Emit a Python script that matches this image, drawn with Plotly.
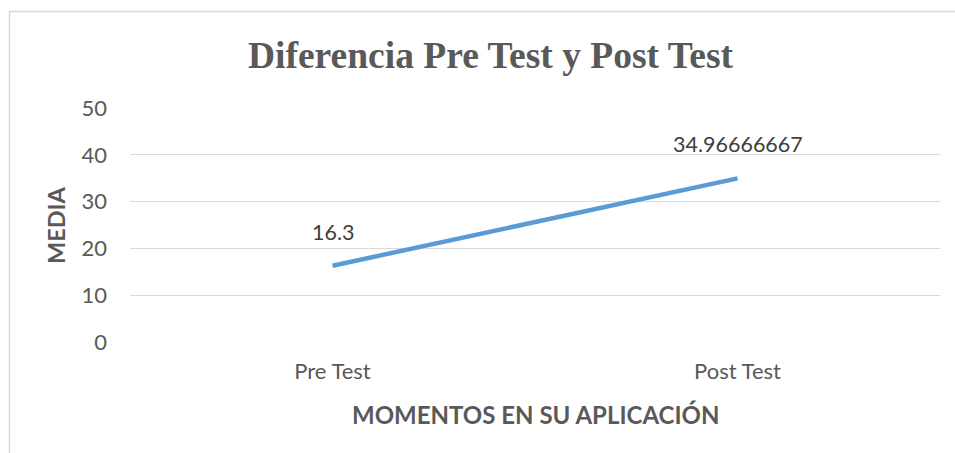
import plotly.graph_objects as go

categories = ["Pre Test", "Post Test"]
values = [16.3, 34.96666667]
value_labels = ["16.3", "34.96666667"]
y_ticks = [0, 10, 20, 30, 40, 50]

title_text = "Diferencia Pre Test y Post Test"
x_title = "MOMENTOS EN SU APLICACIÓN"
y_title = "MEDIA"

fig = go.Figure()
fig.add_trace(go.Scatter(
    x=categories, y=values, mode="lines",
    line=dict(color="#5B9BD5", width=4.5),
    hoverinfo="skip", showlegend=False,
))

for c, v, t in zip(categories, values, value_labels):
    fig.add_annotation(x=c, y=v, text=t, showarrow=False, xanchor="center",
                       yanchor="bottom", yshift=19,
                       font=dict(family="Lato", size=21.5, color="#404040"))

fig.add_annotation(xref="paper", yref="paper", x=0.5, y=0, yshift=-72,
                   text=f"<b>{x_title}</b>", showarrow=False,
                   xanchor="center", yanchor="middle",
                   font=dict(family="Lato", size=24, color="#595959"))
fig.add_annotation(xref="paper", yref="paper", x=0, xshift=-74, y=0.5,
                   text=f"<b>{y_title}</b>", showarrow=False, textangle=-90,
                   xanchor="center", yanchor="middle",
                   font=dict(family="Lato", size=23.5, color="#595959"))

fig.add_shape(type="rect", xref="paper", yref="paper",
              x0=(9.5 - 130) / 810, x1=1.2, y0=-0.6, y1=(342 - 11.5) / 234,
              line=dict(color="#d9d9d9", width=1.5), fillcolor="rgba(0,0,0,0)",
              layer="below")

fig.update_layout(
    width=955, height=453,
    margin=dict(l=130, r=15, t=108, b=111),
    paper_bgcolor="white", plot_bgcolor="white",
    title=dict(text=f"<b>{title_text}</b>", xref="container", x=490.5 / 955,
               xanchor="center", yref="container", y=1 - 55 / 453, yanchor="middle",
               font=dict(family="Liberation Serif", size=37.5, color="#595959")),
    xaxis=dict(type="category", range=[-0.5, 1.5], showgrid=False, zeroline=False,
               showline=False, ticks="", ticklabelstandoff=14,
               tickfont=dict(family="Lato", size=22, color="#595959")),
    yaxis=dict(range=[0, 50], tickvals=y_ticks, showgrid=True, gridcolor="#d9d9d9",
               gridwidth=1.3, zeroline=False, showline=False, ticks="",
               ticklabelstandoff=22,
               tickfont=dict(family="Lato", size=22, color="#595959")),
)

fig.write_html("out.html", config={"displayModeBar": False},
               post_script="document.body.style.margin='0';")
